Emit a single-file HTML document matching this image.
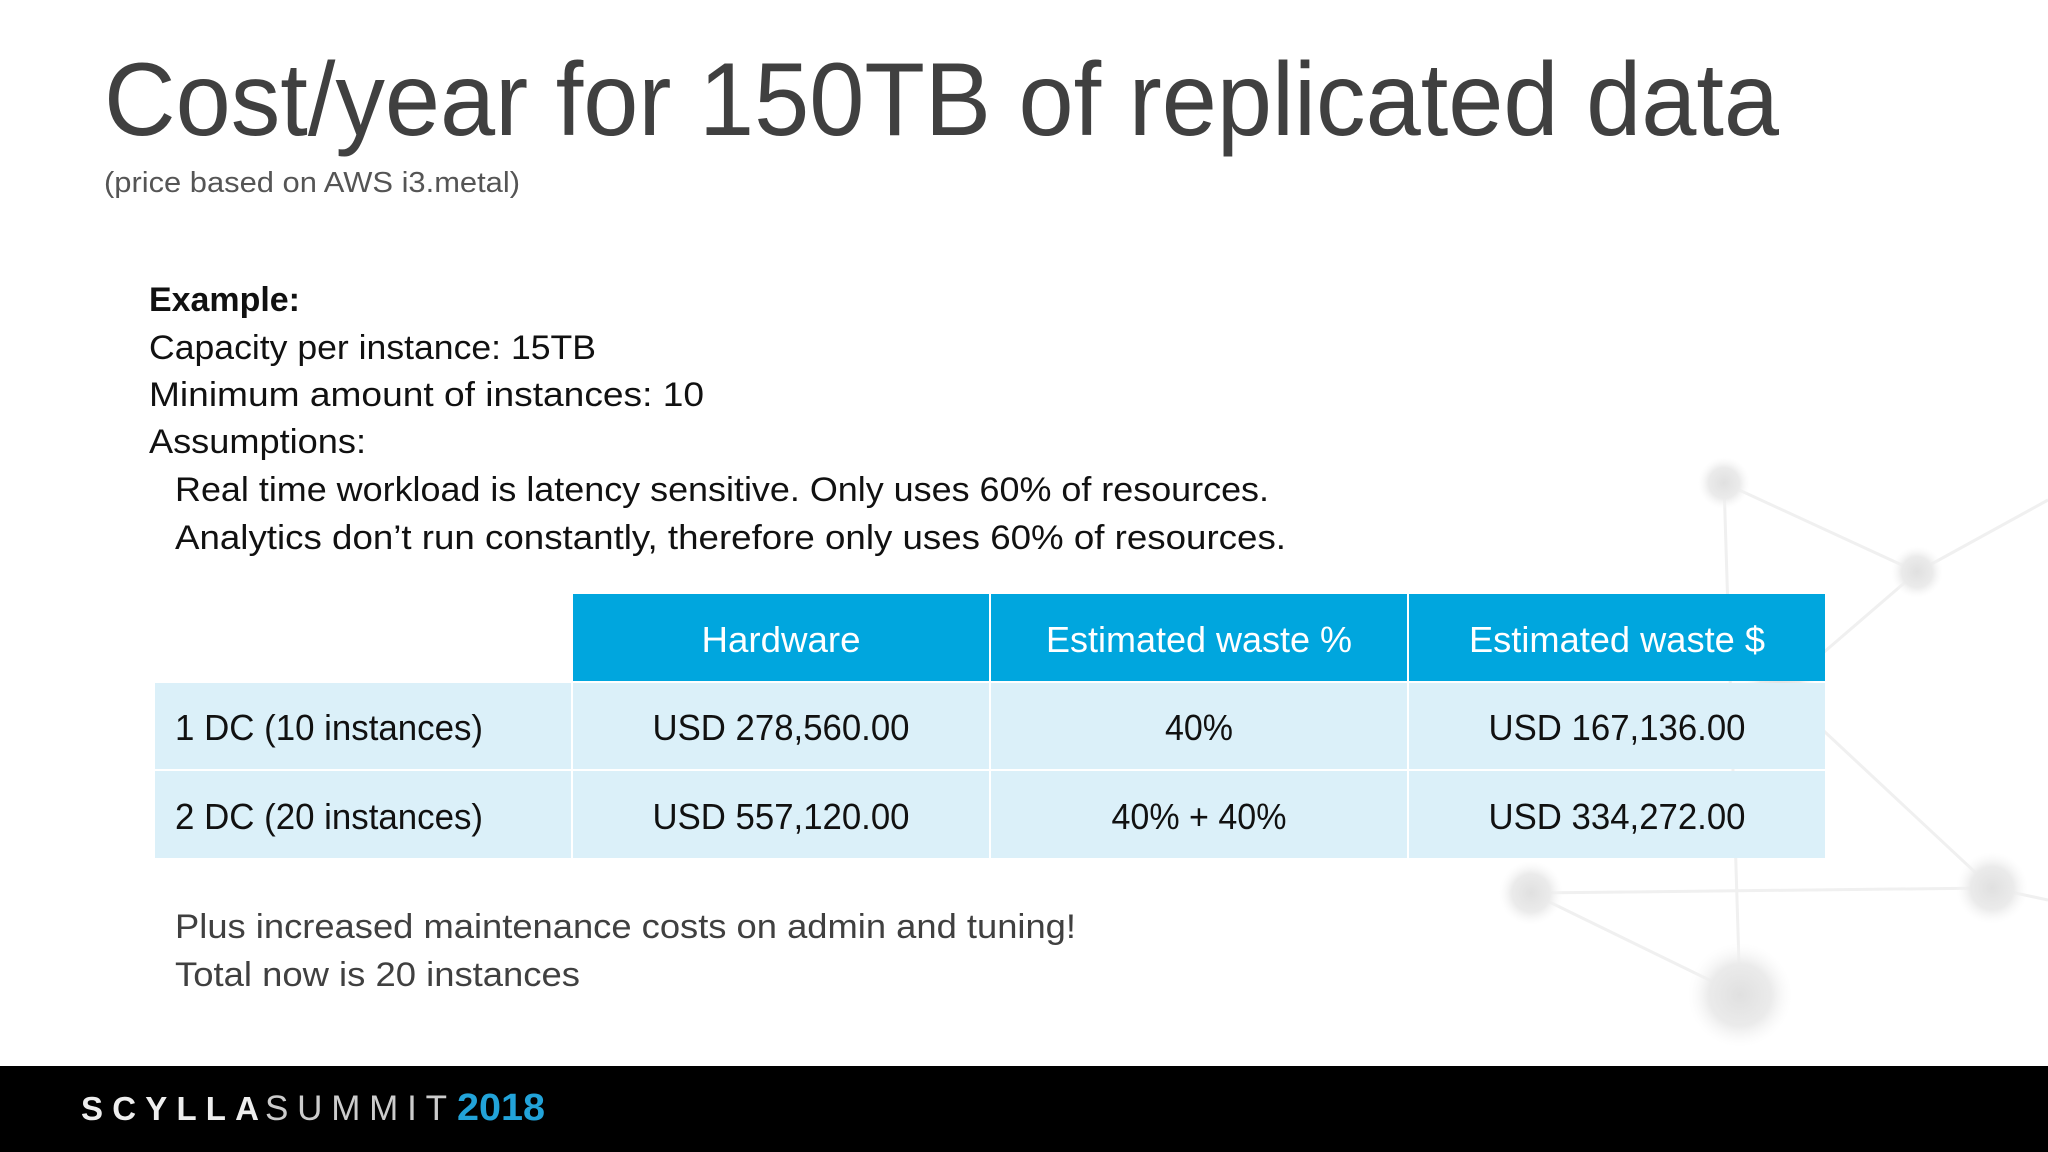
<!DOCTYPE html>
<html><head><meta charset="utf-8"><style>
html,body{margin:0;padding:0;background:#fff;}
svg{display:block;}
text{font-family:"Liberation Sans",sans-serif;}
</style></head><body>
<svg width="2048" height="1152" viewBox="0 0 2048 1152" xmlns="http://www.w3.org/2000/svg">
<defs>
<radialGradient id="node" cx="50%" cy="50%" r="50%">
<stop offset="0%" stop-color="#e0e0e0"/><stop offset="60%" stop-color="#ebebeb"/><stop offset="100%" stop-color="#f8f8f8" stop-opacity="0"/>
</radialGradient>
</defs>
<rect width="2048" height="1152" fill="#fff"/>
<g stroke="#f0f0f0" stroke-width="3" fill="none">
<line x1="1724" y1="483" x2="1917" y2="572"/>
<line x1="1917" y1="572" x2="1780" y2="690"/>
<line x1="1724" y1="483" x2="1740" y2="995"/>
<line x1="1531" y1="893" x2="1992" y2="888"/>
<line x1="1531" y1="893" x2="1740" y2="995"/>
<line x1="1780" y1="690" x2="1992" y2="888"/>
<line x1="1992" y1="888" x2="2048" y2="900"/>
<line x1="1917" y1="572" x2="2048" y2="500"/>
</g>
<g>
<circle cx="1724" cy="483" r="26" fill="url(#node)"/>
<circle cx="1917" cy="572" r="26" fill="url(#node)"/>
<circle cx="1531" cy="893" r="32" fill="url(#node)"/>
<circle cx="1740" cy="995" r="52" fill="url(#node)"/>
<circle cx="1992" cy="888" r="36" fill="url(#node)"/>
<circle cx="1780" cy="690" r="36" fill="url(#node)"/>
</g>

<text x="104" y="135" font-size="104" fill="#404040" textLength="1675" lengthAdjust="spacingAndGlyphs">Cost/year for 150TB of replicated data</text>
<text x="104" y="192" font-size="29" fill="#555" textLength="416" lengthAdjust="spacingAndGlyphs">(price based on AWS i3.metal)</text>

<g font-size="34" fill="#111">
<text x="149" y="311" font-weight="bold" textLength="151" lengthAdjust="spacingAndGlyphs">Example:</text>
<text x="149" y="359" textLength="447" lengthAdjust="spacingAndGlyphs">Capacity per instance: 15TB</text>
<text x="149" y="406" textLength="555" lengthAdjust="spacingAndGlyphs">Minimum amount of instances: 10</text>
<text x="149" y="453" textLength="217" lengthAdjust="spacingAndGlyphs">Assumptions:</text>
<text x="175" y="501" textLength="1094" lengthAdjust="spacingAndGlyphs">Real time workload is latency sensitive. Only uses 60% of resources.</text>
<text x="175" y="549" textLength="1111" lengthAdjust="spacingAndGlyphs">Analytics don’t run constantly, therefore only uses 60% of resources.</text>
</g>

<g>
<rect x="573" y="594" width="416" height="87" fill="#00a6de"/>
<rect x="991" y="594" width="416" height="87" fill="#00a6de"/>
<rect x="1409" y="594" width="416" height="87" fill="#00a6de"/>
<g fill="#dbf0f9">
<rect x="155" y="683" width="416" height="86"/><rect x="573" y="683" width="416" height="86"/><rect x="991" y="683" width="416" height="86"/><rect x="1409" y="683" width="416" height="86"/>
<rect x="155" y="771" width="416" height="87"/><rect x="573" y="771" width="416" height="87"/><rect x="991" y="771" width="416" height="87"/><rect x="1409" y="771" width="416" height="87"/>
</g>
<g font-size="36" fill="#fff" text-anchor="middle">
<text x="781" y="652" textLength="159" lengthAdjust="spacingAndGlyphs">Hardware</text>
<text x="1199" y="652" textLength="306" lengthAdjust="spacingAndGlyphs">Estimated waste %</text>
<text x="1617" y="652" textLength="296" lengthAdjust="spacingAndGlyphs">Estimated waste $</text>
</g>
<g font-size="36" fill="#111">
<text x="175" y="740" textLength="308" lengthAdjust="spacingAndGlyphs">1 DC (10 instances)</text>
<text x="175" y="829" textLength="308" lengthAdjust="spacingAndGlyphs">2 DC (20 instances)</text>
</g>
<g font-size="36" fill="#111" text-anchor="middle">
<text x="781" y="740" textLength="257" lengthAdjust="spacingAndGlyphs">USD 278,560.00</text>
<text x="1199" y="740" textLength="68" lengthAdjust="spacingAndGlyphs">40%</text>
<text x="1617" y="740" textLength="257" lengthAdjust="spacingAndGlyphs">USD 167,136.00</text>
<text x="781" y="829" textLength="257" lengthAdjust="spacingAndGlyphs">USD 557,120.00</text>
<text x="1199" y="829" textLength="175" lengthAdjust="spacingAndGlyphs">40% + 40%</text>
<text x="1617" y="829" textLength="257" lengthAdjust="spacingAndGlyphs">USD 334,272.00</text>
</g>
</g>

<g font-size="34" fill="#404040">
<text x="175" y="938" textLength="901" lengthAdjust="spacingAndGlyphs">Plus increased maintenance costs on admin and tuning!</text>
<text x="175" y="986" textLength="405" lengthAdjust="spacingAndGlyphs">Total now is 20 instances</text>
</g>

<rect x="0" y="1066" width="2048" height="86" fill="#000"/>
<g>
<text x="81" y="1120" fill="#eee" font-weight="bold" font-size="33" textLength="178" lengthAdjust="spacing">SCYLLA</text>
<text x="265" y="1120" fill="#ccc" font-size="35" textLength="182" lengthAdjust="spacing">SUMMIT</text>
<text x="457" y="1120" fill="#22a3d9" font-weight="bold" font-size="38" textLength="88" lengthAdjust="spacingAndGlyphs">2018</text>
</g>
</svg>
</body></html>
